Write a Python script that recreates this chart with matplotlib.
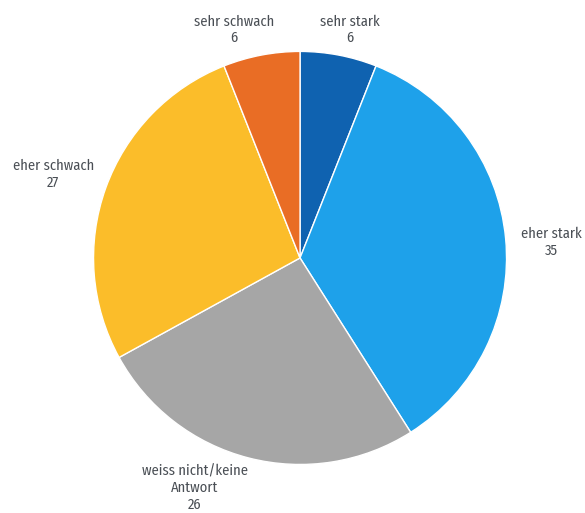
import matplotlib
matplotlib.use("Agg")
import matplotlib.pyplot as plt

# answer categories, clockwise from the top
categories = ["sehr stark", "eher stark", "weiss nicht/keine\nAntwort", "eher schwach", "sehr schwach"]
values = [6, 35, 26, 27, 6]
colors = ["#0f62b0", "#1ea1ea", "#a6a6a6", "#fbbd2a", "#e96d25"]

plt.rcParams["font.family"] = ["Fira Sans Condensed", "DejaVu Sans"]

fig = plt.figure(figsize=(5.85, 5.13), dpi=100)
ax = fig.add_axes([0, 0, 1, 1])

ax.pie(values, colors=colors, startangle=90, counterclock=False, radius=1.0,
       wedgeprops=dict(edgecolor="white", linewidth=1.0))

# label anchors (data units, pie radius = 1)
label_pos = [(0.24, 1.105), (1.215, 0.075), (-0.51, -1.115), (-1.195, 0.405), (-0.32, 1.105)]
for cat, val, (x, y) in zip(categories, values, label_pos):
    ax.text(x, y, f"{cat}\n{val}", ha="center", va="center", fontsize=10.5,
            color="#4a4f55", linespacing=1.2)

ax.set_xlim(-1.453, 1.380)
ax.set_ylim(-1.235, 1.249)
ax.set_aspect("auto")
ax.axis("off")

fig.savefig("out.png", dpi=100)
